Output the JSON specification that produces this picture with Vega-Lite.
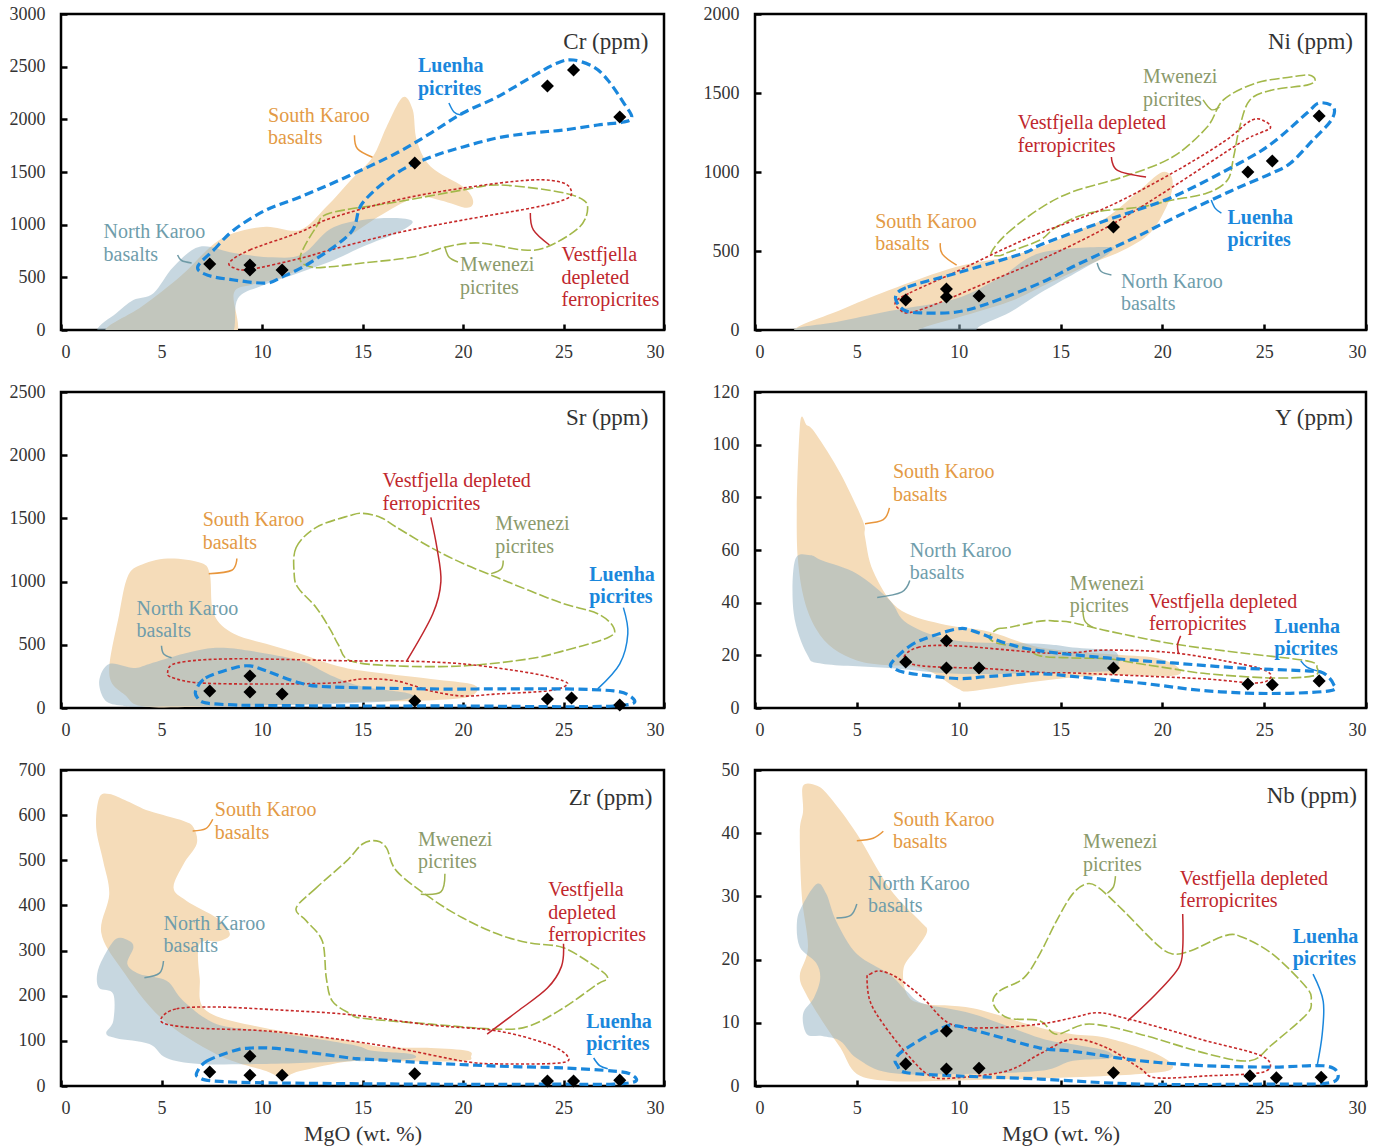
{
"$schema":"https://vega.github.io/schema/vega-lite/v6.json",
"padding":{"left":7,"top":3,"right":5,"bottom":5},
"background":"white",
"bounds":"flush",
"columns":2,
"spacing":{"row":62,"column":91},
"config":{
 "font":"Liberation Serif",
 "view":{"stroke":"black","strokeWidth":2.5},
 "axis":{"grid":false,"domain":false,"labelFont":"Liberation Serif","labelFontSize":18,"labelColor":"#333","tickColor":"black","tickSize":-6,"tickWidth":2.5,"titleFont":"Liberation Serif","titleFontSize":22,"titleFontWeight":"normal","titleColor":"#333"},
 "axisX":{"labelPadding":19,"titlePadding":6},
 "axisY":{"labelPadding":22}
},
"datasets":{
"poly":[
{"p":"Cr","g":"SK","x":2.2,"y":0},{"p":"Cr","g":"SK","x":4,"y":220},{"p":"Cr","g":"SK","x":6,"y":520},{"p":"Cr","g":"SK","x":7.5,"y":800},{"p":"Cr","g":"SK","x":8.6,"y":920},{"p":"Cr","g":"SK","x":10.2,"y":980},{"p":"Cr","g":"SK","x":11.9,"y":950},{"p":"Cr","g":"SK","x":13.2,"y":1170},{"p":"Cr","g":"SK","x":14.4,"y":1420},{"p":"Cr","g":"SK","x":15.5,"y":1640},{"p":"Cr","g":"SK","x":16.2,"y":1930},{"p":"Cr","g":"SK","x":17.0,"y":2210},{"p":"Cr","g":"SK","x":17.5,"y":2090},{"p":"Cr","g":"SK","x":17.7,"y":1800},{"p":"Cr","g":"SK","x":18.4,"y":1550},{"p":"Cr","g":"SK","x":20.0,"y":1360},{"p":"Cr","g":"SK","x":20.5,"y":1230},{"p":"Cr","g":"SK","x":20.2,"y":1160},{"p":"Cr","g":"SK","x":18.9,"y":1230},{"p":"Cr","g":"SK","x":17.7,"y":1260},{"p":"Cr","g":"SK","x":16,"y":1100},{"p":"Cr","g":"SK","x":14,"y":850},{"p":"Cr","g":"SK","x":12.5,"y":650},{"p":"Cr","g":"SK","x":11.0,"y":500},{"p":"Cr","g":"SK","x":9.5,"y":430},{"p":"Cr","g":"SK","x":8.6,"y":350},{"p":"Cr","g":"SK","x":8.8,"y":0},{"p":"Cr","g":"SK","x":8,"y":-150},{"p":"Cr","g":"SK","x":3,"y":-150},
{"p":"Cr","g":"NK","x":1.8,"y":0},{"p":"Cr","g":"NK","x":2.75,"y":160},{"p":"Cr","g":"NK","x":3.6,"y":285},{"p":"Cr","g":"NK","x":4.6,"y":350},{"p":"Cr","g":"NK","x":5.6,"y":600},{"p":"Cr","g":"NK","x":6.9,"y":790},{"p":"Cr","g":"NK","x":8.6,"y":730},{"p":"Cr","g":"NK","x":10.5,"y":690},{"p":"Cr","g":"NK","x":12,"y":720},{"p":"Cr","g":"NK","x":13.4,"y":960},{"p":"Cr","g":"NK","x":15,"y":1045},{"p":"Cr","g":"NK","x":16.7,"y":1063},{"p":"Cr","g":"NK","x":17.5,"y":1025},{"p":"Cr","g":"NK","x":16.7,"y":920},{"p":"Cr","g":"NK","x":15,"y":790},{"p":"Cr","g":"NK","x":13.4,"y":650},{"p":"Cr","g":"NK","x":11.5,"y":520},{"p":"Cr","g":"NK","x":10,"y":420},{"p":"Cr","g":"NK","x":8.8,"y":300},{"p":"Cr","g":"NK","x":8.6,"y":0},{"p":"Cr","g":"NK","x":8,"y":-150},{"p":"Cr","g":"NK","x":2.5,"y":-150},
{"p":"Cr","g":"MW","x":11.9,"y":693},{"p":"Cr","g":"MW","x":12.7,"y":978},{"p":"Cr","g":"MW","x":13.4,"y":1110},{"p":"Cr","g":"MW","x":16.7,"y":1215},{"p":"Cr","g":"MW","x":20,"y":1330},{"p":"Cr","g":"MW","x":21.7,"y":1377},{"p":"Cr","g":"MW","x":24.2,"y":1329},{"p":"Cr","g":"MW","x":25.7,"y":1263},{"p":"Cr","g":"MW","x":26.2,"y":1168},{"p":"Cr","g":"MW","x":25.8,"y":978},{"p":"Cr","g":"MW","x":24.2,"y":790},{"p":"Cr","g":"MW","x":23.0,"y":760},{"p":"Cr","g":"MW","x":20.8,"y":826},{"p":"Cr","g":"MW","x":19.2,"y":790},{"p":"Cr","g":"MW","x":17.5,"y":693},{"p":"Cr","g":"MW","x":15.0,"y":636},{"p":"Cr","g":"MW","x":13.4,"y":600},{"p":"Cr","g":"MW","x":12.4,"y":600},
{"p":"Cr","g":"VF","x":8.4,"y":646},{"p":"Cr","g":"VF","x":9.4,"y":760},{"p":"Cr","g":"VF","x":11.9,"y":930},{"p":"Cr","g":"VF","x":13.4,"y":1060},{"p":"Cr","g":"VF","x":16.7,"y":1234},{"p":"Cr","g":"VF","x":20,"y":1348},{"p":"Cr","g":"VF","x":23.4,"y":1424},{"p":"Cr","g":"VF","x":25.0,"y":1395},{"p":"Cr","g":"VF","x":25.4,"y":1300},{"p":"Cr","g":"VF","x":25.0,"y":1234},{"p":"Cr","g":"VF","x":23.4,"y":1158},{"p":"Cr","g":"VF","x":20,"y":1044},{"p":"Cr","g":"VF","x":16.7,"y":921},{"p":"Cr","g":"VF","x":13.4,"y":760},{"p":"Cr","g":"VF","x":11.9,"y":680},{"p":"Cr","g":"VF","x":9.4,"y":575},{"p":"Cr","g":"VF","x":8.6,"y":590},
{"p":"Cr","g":"LU","x":6.8,"y":600},{"p":"Cr","g":"LU","x":7.6,"y":760},{"p":"Cr","g":"LU","x":8.6,"y":950},{"p":"Cr","g":"LU","x":10.2,"y":1139},{"p":"Cr","g":"LU","x":11.9,"y":1263},{"p":"Cr","g":"LU","x":14.2,"y":1453},{"p":"Cr","g":"LU","x":16.7,"y":1680},{"p":"Cr","g":"LU","x":18.4,"y":1870},{"p":"Cr","g":"LU","x":20.0,"y":2060},{"p":"Cr","g":"LU","x":21.7,"y":2212},{"p":"Cr","g":"LU","x":23.4,"y":2402},{"p":"Cr","g":"LU","x":24.7,"y":2535},{"p":"Cr","g":"LU","x":25.5,"y":2563},{"p":"Cr","g":"LU","x":26.5,"y":2497},{"p":"Cr","g":"LU","x":27.2,"y":2374},{"p":"Cr","g":"LU","x":28.0,"y":2155},{"p":"Cr","g":"LU","x":28.4,"y":2022},{"p":"Cr","g":"LU","x":28.0,"y":1975},{"p":"Cr","g":"LU","x":26.7,"y":1946},{"p":"Cr","g":"LU","x":25.0,"y":1899},{"p":"Cr","g":"LU","x":23.4,"y":1870},{"p":"Cr","g":"LU","x":21.7,"y":1823},{"p":"Cr","g":"LU","x":20.0,"y":1738},{"p":"Cr","g":"LU","x":18.4,"y":1642},{"p":"Cr","g":"LU","x":16.7,"y":1490},{"p":"Cr","g":"LU","x":15.0,"y":1205},{"p":"Cr","g":"LU","x":14.4,"y":921},{"p":"Cr","g":"LU","x":12.4,"y":640},{"p":"Cr","g":"LU","x":11.0,"y":503},{"p":"Cr","g":"LU","x":10.2,"y":446},{"p":"Cr","g":"LU","x":8.6,"y":475},{"p":"Cr","g":"LU","x":7.3,"y":520},
{"p":"Ni","g":"SK","x":1.9,"y":0},{"p":"Ni","g":"SK","x":4.2,"y":127},{"p":"Ni","g":"SK","x":6.6,"y":253},{"p":"Ni","g":"SK","x":9.9,"y":400},{"p":"Ni","g":"SK","x":12.4,"y":462},{"p":"Ni","g":"SK","x":14,"y":525},{"p":"Ni","g":"SK","x":15.6,"y":614},{"p":"Ni","g":"SK","x":17.3,"y":715},{"p":"Ni","g":"SK","x":18.9,"y":886},{"p":"Ni","g":"SK","x":19.9,"y":994},{"p":"Ni","g":"SK","x":20.4,"y":981},{"p":"Ni","g":"SK","x":20.5,"y":905},{"p":"Ni","g":"SK","x":20.2,"y":778},{"p":"Ni","g":"SK","x":19.4,"y":614},{"p":"Ni","g":"SK","x":18.1,"y":506},{"p":"Ni","g":"SK","x":16.5,"y":420},{"p":"Ni","g":"SK","x":14.5,"y":300},{"p":"Ni","g":"SK","x":12.5,"y":180},{"p":"Ni","g":"SK","x":10,"y":80},{"p":"Ni","g":"SK","x":8,"y":0},{"p":"Ni","g":"SK","x":7,"y":-100},{"p":"Ni","g":"SK","x":2.5,"y":-100},
{"p":"Ni","g":"NK","x":1.9,"y":0},{"p":"Ni","g":"NK","x":4,"y":50},{"p":"Ni","g":"NK","x":6.6,"y":120},{"p":"Ni","g":"NK","x":9.9,"y":200},{"p":"Ni","g":"NK","x":12,"y":330},{"p":"Ni","g":"NK","x":14,"y":487},{"p":"Ni","g":"NK","x":17.3,"y":525},{"p":"Ni","g":"NK","x":17.4,"y":487},{"p":"Ni","g":"NK","x":16,"y":380},{"p":"Ni","g":"NK","x":14,"y":234},{"p":"Ni","g":"NK","x":12.5,"y":110},{"p":"Ni","g":"NK","x":11,"y":20},{"p":"Ni","g":"NK","x":10,"y":-100},{"p":"Ni","g":"NK","x":3,"y":-100},
{"p":"Ni","g":"MW","x":11.6,"y":490},{"p":"Ni","g":"MW","x":12.4,"y":614},{"p":"Ni","g":"MW","x":14,"y":770},{"p":"Ni","g":"MW","x":15.6,"y":875},{"p":"Ni","g":"MW","x":18.1,"y":970},{"p":"Ni","g":"MW","x":20.5,"y":1095},{"p":"Ni","g":"MW","x":22.2,"y":1285},{"p":"Ni","g":"MW","x":23.0,"y":1456},{"p":"Ni","g":"MW","x":24.6,"y":1563},{"p":"Ni","g":"MW","x":26.3,"y":1601},{"p":"Ni","g":"MW","x":27.2,"y":1614},{"p":"Ni","g":"MW","x":27.5,"y":1582},{"p":"Ni","g":"MW","x":27.1,"y":1550},{"p":"Ni","g":"MW","x":25.4,"y":1519},{"p":"Ni","g":"MW","x":24.3,"y":1456},{"p":"Ni","g":"MW","x":23.8,"y":1285},{"p":"Ni","g":"MW","x":23.5,"y":1095},{"p":"Ni","g":"MW","x":23.2,"y":949},{"p":"Ni","g":"MW","x":22.2,"y":867},{"p":"Ni","g":"MW","x":20.5,"y":823},{"p":"Ni","g":"MW","x":18.9,"y":778},{"p":"Ni","g":"MW","x":16.4,"y":740},{"p":"Ni","g":"MW","x":14.8,"y":652},{"p":"Ni","g":"MW","x":14,"y":570},{"p":"Ni","g":"MW","x":12.4,"y":490},{"p":"Ni","g":"MW","x":12.0,"y":470},
{"p":"Ni","g":"VF","x":6.9,"y":177},{"p":"Ni","g":"VF","x":7.6,"y":235},{"p":"Ni","g":"VF","x":9.9,"y":370},{"p":"Ni","g":"VF","x":12,"y":500},{"p":"Ni","g":"VF","x":14,"y":614},{"p":"Ni","g":"VF","x":17.3,"y":778},{"p":"Ni","g":"VF","x":20.5,"y":994},{"p":"Ni","g":"VF","x":23,"y":1190},{"p":"Ni","g":"VF","x":24.4,"y":1329},{"p":"Ni","g":"VF","x":25.1,"y":1316},{"p":"Ni","g":"VF","x":25.3,"y":1278},{"p":"Ni","g":"VF","x":24.8,"y":1247},{"p":"Ni","g":"VF","x":23.8,"y":1183},{"p":"Ni","g":"VF","x":20.5,"y":905},{"p":"Ni","g":"VF","x":17.3,"y":652},{"p":"Ni","g":"VF","x":14,"y":443},{"p":"Ni","g":"VF","x":11,"y":280},{"p":"Ni","g":"VF","x":9,"y":170},{"p":"Ni","g":"VF","x":7.6,"y":110},{"p":"Ni","g":"VF","x":7.1,"y":130},
{"p":"Ni","g":"LU","x":6.9,"y":209},{"p":"Ni","g":"LU","x":7.5,"y":272},{"p":"Ni","g":"LU","x":9.9,"y":360},{"p":"Ni","g":"LU","x":13.2,"y":487},{"p":"Ni","g":"LU","x":14,"y":538},{"p":"Ni","g":"LU","x":17.3,"y":696},{"p":"Ni","g":"LU","x":20.5,"y":842},{"p":"Ni","g":"LU","x":23.8,"y":1057},{"p":"Ni","g":"LU","x":25.4,"y":1183},{"p":"Ni","g":"LU","x":27.1,"y":1373},{"p":"Ni","g":"LU","x":27.7,"y":1437},{"p":"Ni","g":"LU","x":28.4,"y":1411},{"p":"Ni","g":"LU","x":28.3,"y":1329},{"p":"Ni","g":"LU","x":27.4,"y":1203},{"p":"Ni","g":"LU","x":26.3,"y":1057},{"p":"Ni","g":"LU","x":25.4,"y":994},{"p":"Ni","g":"LU","x":23.8,"y":905},{"p":"Ni","g":"LU","x":22.2,"y":810},{"p":"Ni","g":"LU","x":20.5,"y":705},{"p":"Ni","g":"LU","x":18.9,"y":600},{"p":"Ni","g":"LU","x":17.3,"y":503},{"p":"Ni","g":"LU","x":15.6,"y":400},{"p":"Ni","g":"LU","x":14,"y":297},{"p":"Ni","g":"LU","x":11.5,"y":170},{"p":"Ni","g":"LU","x":9.9,"y":114},{"p":"Ni","g":"LU","x":8.2,"y":108},{"p":"Ni","g":"LU","x":7.3,"y":127},
{"p":"Sr","g":"SK","x":2.4,"y":270},{"p":"Sr","g":"SK","x":2.9,"y":746},{"p":"Sr","g":"SK","x":3.3,"y":1032},{"p":"Sr","g":"SK","x":3.9,"y":1127},{"p":"Sr","g":"SK","x":5.3,"y":1183},{"p":"Sr","g":"SK","x":6.9,"y":1151},{"p":"Sr","g":"SK","x":7.4,"y":1063},{"p":"Sr","g":"SK","x":7.6,"y":746},{"p":"Sr","g":"SK","x":8.6,"y":587},{"p":"Sr","g":"SK","x":10.2,"y":508},{"p":"Sr","g":"SK","x":11.9,"y":429},{"p":"Sr","g":"SK","x":13.4,"y":349},{"p":"Sr","g":"SK","x":15,"y":294},{"p":"Sr","g":"SK","x":18.4,"y":230},{"p":"Sr","g":"SK","x":20.4,"y":190},{"p":"Sr","g":"SK","x":20.7,"y":135},{"p":"Sr","g":"SK","x":20,"y":79},{"p":"Sr","g":"SK","x":17.5,"y":56},{"p":"Sr","g":"SK","x":15,"y":50},{"p":"Sr","g":"SK","x":12,"y":30},{"p":"Sr","g":"SK","x":8,"y":15},{"p":"Sr","g":"SK","x":4.2,"y":10},{"p":"Sr","g":"SK","x":3.2,"y":100},
{"p":"Sr","g":"NK","x":1.9,"y":214},{"p":"Sr","g":"NK","x":2.4,"y":349},{"p":"Sr","g":"NK","x":3.6,"y":317},{"p":"Sr","g":"NK","x":4.4,"y":349},{"p":"Sr","g":"NK","x":6.1,"y":429},{"p":"Sr","g":"NK","x":7.7,"y":476},{"p":"Sr","g":"NK","x":9.4,"y":452},{"p":"Sr","g":"NK","x":11.9,"y":373},{"p":"Sr","g":"NK","x":13.4,"y":260},{"p":"Sr","g":"NK","x":15,"y":170},{"p":"Sr","g":"NK","x":17.2,"y":119},{"p":"Sr","g":"NK","x":17.4,"y":79},{"p":"Sr","g":"NK","x":15.9,"y":50},{"p":"Sr","g":"NK","x":12,"y":25},{"p":"Sr","g":"NK","x":8,"y":15},{"p":"Sr","g":"NK","x":4,"y":10},{"p":"Sr","g":"NK","x":3,"y":20},{"p":"Sr","g":"NK","x":2.2,"y":60},
{"p":"Sr","g":"MW","x":11.6,"y":1063},{"p":"Sr","g":"MW","x":11.7,"y":1270},{"p":"Sr","g":"MW","x":12.7,"y":1429},{"p":"Sr","g":"MW","x":14.4,"y":1524},{"p":"Sr","g":"MW","x":15.0,"y":1540},{"p":"Sr","g":"MW","x":15.9,"y":1508},{"p":"Sr","g":"MW","x":16.7,"y":1429},{"p":"Sr","g":"MW","x":18.4,"y":1270},{"p":"Sr","g":"MW","x":20,"y":1143},{"p":"Sr","g":"MW","x":21.7,"y":1032},{"p":"Sr","g":"MW","x":23.3,"y":929},{"p":"Sr","g":"MW","x":25,"y":825},{"p":"Sr","g":"MW","x":26.7,"y":746},{"p":"Sr","g":"MW","x":27.5,"y":635},{"p":"Sr","g":"MW","x":27.2,"y":556},{"p":"Sr","g":"MW","x":25,"y":452},{"p":"Sr","g":"MW","x":23.3,"y":389},{"p":"Sr","g":"MW","x":20,"y":333},{"p":"Sr","g":"MW","x":16.7,"y":333},{"p":"Sr","g":"MW","x":14.4,"y":373},{"p":"Sr","g":"MW","x":13.8,"y":500},{"p":"Sr","g":"MW","x":13.4,"y":620},{"p":"Sr","g":"MW","x":12.7,"y":794},{"p":"Sr","g":"MW","x":11.8,"y":950},
{"p":"Sr","g":"VF","x":5.3,"y":278},{"p":"Sr","g":"VF","x":5.8,"y":357},{"p":"Sr","g":"VF","x":8.6,"y":389},{"p":"Sr","g":"VF","x":14.4,"y":373},{"p":"Sr","g":"VF","x":16.7,"y":373},{"p":"Sr","g":"VF","x":20,"y":349},{"p":"Sr","g":"VF","x":23.3,"y":278},{"p":"Sr","g":"VF","x":25,"y":214},{"p":"Sr","g":"VF","x":25.1,"y":175},{"p":"Sr","g":"VF","x":24.2,"y":135},{"p":"Sr","g":"VF","x":21.7,"y":111},{"p":"Sr","g":"VF","x":20,"y":95},{"p":"Sr","g":"VF","x":18.4,"y":135},{"p":"Sr","g":"VF","x":16.7,"y":214},{"p":"Sr","g":"VF","x":15,"y":230},{"p":"Sr","g":"VF","x":13.5,"y":198},{"p":"Sr","g":"VF","x":10.2,"y":190},{"p":"Sr","g":"VF","x":6.9,"y":198},{"p":"Sr","g":"VF","x":5.6,"y":238},
{"p":"Sr","g":"LU","x":6.7,"y":135},{"p":"Sr","g":"LU","x":7.2,"y":238},{"p":"Sr","g":"LU","x":8.6,"y":317},{"p":"Sr","g":"LU","x":9.4,"y":333},{"p":"Sr","g":"LU","x":10.2,"y":294},{"p":"Sr","g":"LU","x":11.9,"y":198},{"p":"Sr","g":"LU","x":13.4,"y":167},{"p":"Sr","g":"LU","x":18.4,"y":151},{"p":"Sr","g":"LU","x":21.7,"y":151},{"p":"Sr","g":"LU","x":25,"y":151},{"p":"Sr","g":"LU","x":27.5,"y":135},{"p":"Sr","g":"LU","x":28.3,"y":95},{"p":"Sr","g":"LU","x":28.5,"y":40},{"p":"Sr","g":"LU","x":27.5,"y":16},{"p":"Sr","g":"LU","x":25,"y":10},{"p":"Sr","g":"LU","x":20,"y":16},{"p":"Sr","g":"LU","x":15,"y":16},{"p":"Sr","g":"LU","x":10.2,"y":20},{"p":"Sr","g":"LU","x":8.6,"y":24},{"p":"Sr","g":"LU","x":7.2,"y":40},{"p":"Sr","g":"LU","x":6.8,"y":79},
{"p":"Y","g":"SK","x":2.2,"y":106.7},{"p":"Y","g":"SK","x":2.55,"y":107.4},{"p":"Y","g":"SK","x":3.0,"y":104},{"p":"Y","g":"SK","x":4.2,"y":89},{"p":"Y","g":"SK","x":5.3,"y":71},{"p":"Y","g":"SK","x":5.4,"y":65},{"p":"Y","g":"SK","x":5.8,"y":52},{"p":"Y","g":"SK","x":7.0,"y":38},{"p":"Y","g":"SK","x":9.1,"y":32},{"p":"Y","g":"SK","x":11.5,"y":29},{"p":"Y","g":"SK","x":14,"y":23},{"p":"Y","g":"SK","x":17.3,"y":20.5},{"p":"Y","g":"SK","x":19.7,"y":19},{"p":"Y","g":"SK","x":20.8,"y":15.2},{"p":"Y","g":"SK","x":20.5,"y":12.2},{"p":"Y","g":"SK","x":17.3,"y":12.5},{"p":"Y","g":"SK","x":14,"y":10.3},{"p":"Y","g":"SK","x":10.7,"y":6.5},{"p":"Y","g":"SK","x":9.9,"y":7.6},{"p":"Y","g":"SK","x":8.2,"y":15},{"p":"Y","g":"SK","x":5,"y":18},{"p":"Y","g":"SK","x":3,"y":30},{"p":"Y","g":"SK","x":2.1,"y":57},
{"p":"Y","g":"NK","x":1.96,"y":56},{"p":"Y","g":"NK","x":2.7,"y":58},{"p":"Y","g":"NK","x":3.3,"y":56},{"p":"Y","g":"NK","x":5.0,"y":51},{"p":"Y","g":"NK","x":6.6,"y":41},{"p":"Y","g":"NK","x":7.5,"y":32},{"p":"Y","g":"NK","x":9.9,"y":25.5},{"p":"Y","g":"NK","x":14,"y":24.4},{"p":"Y","g":"NK","x":15.6,"y":23},{"p":"Y","g":"NK","x":17.3,"y":22},{"p":"Y","g":"NK","x":17.8,"y":20.5},{"p":"Y","g":"NK","x":17.8,"y":15.2},{"p":"Y","g":"NK","x":17.3,"y":14},{"p":"Y","g":"NK","x":14,"y":13.3},{"p":"Y","g":"NK","x":9.9,"y":13},{"p":"Y","g":"NK","x":6.6,"y":15.2},{"p":"Y","g":"NK","x":3.3,"y":16.8},{"p":"Y","g":"NK","x":2.55,"y":20.5},{"p":"Y","g":"NK","x":1.9,"y":36},
{"p":"Y","g":"MW","x":11.5,"y":26.7},{"p":"Y","g":"MW","x":11.9,"y":30},{"p":"Y","g":"MW","x":12.4,"y":30.5},{"p":"Y","g":"MW","x":14,"y":33},{"p":"Y","g":"MW","x":14.8,"y":33},{"p":"Y","g":"MW","x":15.6,"y":32.4},{"p":"Y","g":"MW","x":17.3,"y":29.3},{"p":"Y","g":"MW","x":20.5,"y":24.4},{"p":"Y","g":"MW","x":23.8,"y":21},{"p":"Y","g":"MW","x":27.1,"y":17.9},{"p":"Y","g":"MW","x":27.6,"y":15.2},{"p":"Y","g":"MW","x":27.4,"y":12.2},{"p":"Y","g":"MW","x":25.4,"y":11.4},{"p":"Y","g":"MW","x":22.2,"y":13},{"p":"Y","g":"MW","x":20.5,"y":14.9},{"p":"Y","g":"MW","x":18.9,"y":16.8},{"p":"Y","g":"MW","x":17.3,"y":18.7},{"p":"Y","g":"MW","x":15.6,"y":19},{"p":"Y","g":"MW","x":14,"y":19.8},{"p":"Y","g":"MW","x":13.2,"y":23},{"p":"Y","g":"MW","x":12,"y":24.4},
{"p":"Y","g":"VF","x":7.3,"y":18.7},{"p":"Y","g":"VF","x":8.0,"y":23},{"p":"Y","g":"VF","x":9.9,"y":23.6},{"p":"Y","g":"VF","x":14,"y":21},{"p":"Y","g":"VF","x":15.6,"y":21},{"p":"Y","g":"VF","x":17.3,"y":22},{"p":"Y","g":"VF","x":20.5,"y":21},{"p":"Y","g":"VF","x":23.8,"y":16.8},{"p":"Y","g":"VF","x":25.1,"y":14.1},{"p":"Y","g":"VF","x":25.3,"y":11.4},{"p":"Y","g":"VF","x":24.6,"y":9.5},{"p":"Y","g":"VF","x":22.2,"y":11},{"p":"Y","g":"VF","x":18.9,"y":12.2},{"p":"Y","g":"VF","x":15.6,"y":13.3},{"p":"Y","g":"VF","x":14,"y":13.5},{"p":"Y","g":"VF","x":11.5,"y":14.9},{"p":"Y","g":"VF","x":8.2,"y":16},
{"p":"Y","g":"LU","x":6.7,"y":17.1},{"p":"Y","g":"LU","x":7.5,"y":23},{"p":"Y","g":"LU","x":8.3,"y":26.2},{"p":"Y","g":"LU","x":9.9,"y":30},{"p":"Y","g":"LU","x":10.7,"y":29.3},{"p":"Y","g":"LU","x":12.4,"y":24.4},{"p":"Y","g":"LU","x":14,"y":21.7},{"p":"Y","g":"LU","x":17.3,"y":19},{"p":"Y","g":"LU","x":20.5,"y":17.1},{"p":"Y","g":"LU","x":23.8,"y":15.2},{"p":"Y","g":"LU","x":27.1,"y":14.1},{"p":"Y","g":"LU","x":27.9,"y":13.3},{"p":"Y","g":"LU","x":28.4,"y":9.1},{"p":"Y","g":"LU","x":28.2,"y":6.5},{"p":"Y","g":"LU","x":25.4,"y":5.5},{"p":"Y","g":"LU","x":22.2,"y":6.5},{"p":"Y","g":"LU","x":18.9,"y":9.5},{"p":"Y","g":"LU","x":15.6,"y":12},{"p":"Y","g":"LU","x":14,"y":13},{"p":"Y","g":"LU","x":11.5,"y":12},{"p":"Y","g":"LU","x":9.9,"y":11.2},{"p":"Y","g":"LU","x":7.5,"y":13.3},{"p":"Y","g":"LU","x":6.8,"y":15.2},
{"p":"Zr","g":"SK","x":1.9,"y":638},{"p":"Zr","g":"SK","x":2.4,"y":647},{"p":"Zr","g":"SK","x":3.3,"y":631},{"p":"Zr","g":"SK","x":4.4,"y":609},{"p":"Zr","g":"SK","x":6.1,"y":587},{"p":"Zr","g":"SK","x":6.6,"y":572},{"p":"Zr","g":"SK","x":6.75,"y":536},{"p":"Zr","g":"SK","x":6.1,"y":492},{"p":"Zr","g":"SK","x":5.6,"y":439},{"p":"Zr","g":"SK","x":6.25,"y":410},{"p":"Zr","g":"SK","x":7.75,"y":372},{"p":"Zr","g":"SK","x":8.4,"y":337},{"p":"Zr","g":"SK","x":7.9,"y":321},{"p":"Zr","g":"SK","x":6.9,"y":315},{"p":"Zr","g":"SK","x":6.9,"y":239},{"p":"Zr","g":"SK","x":7.25,"y":166},{"p":"Zr","g":"SK","x":10.2,"y":128},{"p":"Zr","g":"SK","x":14.4,"y":100},{"p":"Zr","g":"SK","x":16,"y":86},{"p":"Zr","g":"SK","x":18.4,"y":84},{"p":"Zr","g":"SK","x":20.2,"y":78},{"p":"Zr","g":"SK","x":20.4,"y":66},{"p":"Zr","g":"SK","x":20,"y":55},{"p":"Zr","g":"SK","x":16.7,"y":55},{"p":"Zr","g":"SK","x":14.4,"y":55},{"p":"Zr","g":"SK","x":11.9,"y":33},{"p":"Zr","g":"SK","x":11.0,"y":18},{"p":"Zr","g":"SK","x":10.2,"y":33},{"p":"Zr","g":"SK","x":7.75,"y":70},{"p":"Zr","g":"SK","x":5,"y":150},{"p":"Zr","g":"SK","x":3,"y":260},{"p":"Zr","g":"SK","x":2.0,"y":340},{"p":"Zr","g":"SK","x":2.4,"y":425},{"p":"Zr","g":"SK","x":2.1,"y":498},{"p":"Zr","g":"SK","x":1.75,"y":572},
{"p":"Zr","g":"NK","x":2.75,"y":326},{"p":"Zr","g":"NK","x":3.4,"y":321},{"p":"Zr","g":"NK","x":3.6,"y":306},{"p":"Zr","g":"NK","x":3.3,"y":270},{"p":"Zr","g":"NK","x":3.9,"y":248},{"p":"Zr","g":"NK","x":5.25,"y":233},{"p":"Zr","g":"NK","x":6.1,"y":188},{"p":"Zr","g":"NK","x":7.75,"y":137},{"p":"Zr","g":"NK","x":10.2,"y":122},{"p":"Zr","g":"NK","x":14.4,"y":92},{"p":"Zr","g":"NK","x":15.5,"y":78},{"p":"Zr","g":"NK","x":17.4,"y":71},{"p":"Zr","g":"NK","x":17.4,"y":60},{"p":"Zr","g":"NK","x":15,"y":55},{"p":"Zr","g":"NK","x":14.4,"y":55},{"p":"Zr","g":"NK","x":10.2,"y":49},{"p":"Zr","g":"NK","x":6.9,"y":49},{"p":"Zr","g":"NK","x":5.25,"y":62},{"p":"Zr","g":"NK","x":4.4,"y":93},{"p":"Zr","g":"NK","x":2.75,"y":106},{"p":"Zr","g":"NK","x":2.25,"y":117},{"p":"Zr","g":"NK","x":2.6,"y":144},{"p":"Zr","g":"NK","x":2.6,"y":204},{"p":"Zr","g":"NK","x":1.9,"y":217},{"p":"Zr","g":"NK","x":1.8,"y":248},{"p":"Zr","g":"NK","x":2.1,"y":284},
{"p":"Zr","g":"MW","x":14.2,"y":498},{"p":"Zr","g":"MW","x":12.7,"y":439},{"p":"Zr","g":"MW","x":11.7,"y":394},{"p":"Zr","g":"MW","x":12.2,"y":366},{"p":"Zr","g":"MW","x":13,"y":321},{"p":"Zr","g":"MW","x":13.2,"y":239},{"p":"Zr","g":"MW","x":13.5,"y":188},{"p":"Zr","g":"MW","x":14.4,"y":160},{"p":"Zr","g":"MW","x":15,"y":150},{"p":"Zr","g":"MW","x":18.4,"y":137},{"p":"Zr","g":"MW","x":21.7,"y":126},{"p":"Zr","g":"MW","x":23.3,"y":133},{"p":"Zr","g":"MW","x":25,"y":173},{"p":"Zr","g":"MW","x":26.7,"y":226},{"p":"Zr","g":"MW","x":27.2,"y":239},{"p":"Zr","g":"MW","x":26.7,"y":261},{"p":"Zr","g":"MW","x":25,"y":306},{"p":"Zr","g":"MW","x":23.3,"y":317},{"p":"Zr","g":"MW","x":21.7,"y":337},{"p":"Zr","g":"MW","x":20,"y":372},{"p":"Zr","g":"MW","x":18.4,"y":416},{"p":"Zr","g":"MW","x":16.7,"y":476},{"p":"Zr","g":"MW","x":16.2,"y":527},{"p":"Zr","g":"MW","x":15.7,"y":543},{"p":"Zr","g":"MW","x":15,"y":536},
{"p":"Zr","g":"VF","x":5,"y":151},{"p":"Zr","g":"VF","x":5.75,"y":171},{"p":"Zr","g":"VF","x":7.75,"y":175},{"p":"Zr","g":"VF","x":11,"y":168},{"p":"Zr","g":"VF","x":14.4,"y":158},{"p":"Zr","g":"VF","x":18.4,"y":135},{"p":"Zr","g":"VF","x":21.7,"y":122},{"p":"Zr","g":"VF","x":24.2,"y":93},{"p":"Zr","g":"VF","x":25.2,"y":66},{"p":"Zr","g":"VF","x":24.8,"y":51},{"p":"Zr","g":"VF","x":21.7,"y":49},{"p":"Zr","g":"VF","x":20,"y":55},{"p":"Zr","g":"VF","x":16.7,"y":84},{"p":"Zr","g":"VF","x":13.4,"y":106},{"p":"Zr","g":"VF","x":10.2,"y":122},{"p":"Zr","g":"VF","x":6.9,"y":128},{"p":"Zr","g":"VF","x":5.25,"y":137},
{"p":"Zr","g":"LU","x":6.75,"y":29},{"p":"Zr","g":"LU","x":7.25,"y":55},{"p":"Zr","g":"LU","x":8.6,"y":78},{"p":"Zr","g":"LU","x":9.4,"y":84},{"p":"Zr","g":"LU","x":11,"y":82},{"p":"Zr","g":"LU","x":14.4,"y":62},{"p":"Zr","g":"LU","x":15,"y":60},{"p":"Zr","g":"LU","x":18.4,"y":51},{"p":"Zr","g":"LU","x":21.7,"y":44},{"p":"Zr","g":"LU","x":25,"y":40},{"p":"Zr","g":"LU","x":27.5,"y":33},{"p":"Zr","g":"LU","x":28.3,"y":27},{"p":"Zr","g":"LU","x":28.6,"y":11},{"p":"Zr","g":"LU","x":27.5,"y":4},{"p":"Zr","g":"LU","x":25,"y":4},{"p":"Zr","g":"LU","x":18.4,"y":4},{"p":"Zr","g":"LU","x":10.2,"y":7},{"p":"Zr","g":"LU","x":7.6,"y":11},{"p":"Zr","g":"LU","x":6.9,"y":18},
{"p":"Nb","g":"SK","x":2.36,"y":47.5},{"p":"Nb","g":"SK","x":3.05,"y":47.5},{"p":"Nb","g":"SK","x":3.7,"y":45.6},{"p":"Nb","g":"SK","x":5.0,"y":39.9},{"p":"Nb","g":"SK","x":6.6,"y":31.3},{"p":"Nb","g":"SK","x":8.1,"y":26.1},{"p":"Nb","g":"SK","x":8.45,"y":24.5},{"p":"Nb","g":"SK","x":7.95,"y":21.8},{"p":"Nb","g":"SK","x":7.3,"y":18.7},{"p":"Nb","g":"SK","x":7.45,"y":14.6},{"p":"Nb","g":"SK","x":8.25,"y":13},{"p":"Nb","g":"SK","x":10.7,"y":12.3},{"p":"Nb","g":"SK","x":14,"y":9.2},{"p":"Nb","g":"SK","x":15.6,"y":8.2},{"p":"Nb","g":"SK","x":17.3,"y":7.6},{"p":"Nb","g":"SK","x":19.7,"y":5.1},{"p":"Nb","g":"SK","x":20.5,"y":2.8},{"p":"Nb","g":"SK","x":18.9,"y":1.9},{"p":"Nb","g":"SK","x":14,"y":1.2},{"p":"Nb","g":"SK","x":9,"y":0.8},{"p":"Nb","g":"SK","x":6.6,"y":0.8},{"p":"Nb","g":"SK","x":5.0,"y":1.9},{"p":"Nb","g":"SK","x":4.2,"y":6.0},{"p":"Nb","g":"SK","x":3.3,"y":10.3},{"p":"Nb","g":"SK","x":2.5,"y":14.6},{"p":"Nb","g":"SK","x":2.2,"y":17.5},{"p":"Nb","g":"SK","x":2.6,"y":22},{"p":"Nb","g":"SK","x":2.3,"y":30},{"p":"Nb","g":"SK","x":2.2,"y":40},{"p":"Nb","g":"SK","x":2.36,"y":43.5},
{"p":"Nb","g":"NK","x":3.05,"y":32},{"p":"Nb","g":"NK","x":3.5,"y":30.4},{"p":"Nb","g":"NK","x":4.0,"y":26},{"p":"Nb","g":"NK","x":5.0,"y":20.9},{"p":"Nb","g":"NK","x":6.6,"y":17.7},{"p":"Nb","g":"NK","x":7.45,"y":15},{"p":"Nb","g":"NK","x":8.3,"y":13},{"p":"Nb","g":"NK","x":10.7,"y":11.4},{"p":"Nb","g":"NK","x":14,"y":7.6},{"p":"Nb","g":"NK","x":15.6,"y":6.6},{"p":"Nb","g":"NK","x":17.3,"y":5.5},{"p":"Nb","g":"NK","x":17.4,"y":4.4},{"p":"Nb","g":"NK","x":15.6,"y":4.0},{"p":"Nb","g":"NK","x":14,"y":2.4},{"p":"Nb","g":"NK","x":9.9,"y":1.9},{"p":"Nb","g":"NK","x":6.6,"y":2.1},{"p":"Nb","g":"NK","x":5.0,"y":4.4},{"p":"Nb","g":"NK","x":4.2,"y":7.1},{"p":"Nb","g":"NK","x":3.3,"y":7.9},{"p":"Nb","g":"NK","x":2.55,"y":8.2},{"p":"Nb","g":"NK","x":2.36,"y":11.4},{"p":"Nb","g":"NK","x":2.9,"y":14},{"p":"Nb","g":"NK","x":3.2,"y":17},{"p":"Nb","g":"NK","x":3.0,"y":19.5},{"p":"Nb","g":"NK","x":2.2,"y":22},{"p":"Nb","g":"NK","x":2.06,"y":26},{"p":"Nb","g":"NK","x":2.36,"y":28.8},
{"p":"Nb","g":"MW","x":11.7,"y":13.0},{"p":"Nb","g":"MW","x":12.0,"y":15.0},{"p":"Nb","g":"MW","x":13.2,"y":17.1},{"p":"Nb","g":"MW","x":14,"y":21},{"p":"Nb","g":"MW","x":14.8,"y":26.1},{"p":"Nb","g":"MW","x":15.6,"y":30.4},{"p":"Nb","g":"MW","x":16.3,"y":32},{"p":"Nb","g":"MW","x":16.9,"y":31.3},{"p":"Nb","g":"MW","x":18.1,"y":27.7},{"p":"Nb","g":"MW","x":19.7,"y":22.5},{"p":"Nb","g":"MW","x":20.5,"y":20.9},{"p":"Nb","g":"MW","x":21.4,"y":21.4},{"p":"Nb","g":"MW","x":23.0,"y":23.7},{"p":"Nb","g":"MW","x":23.8,"y":23.7},{"p":"Nb","g":"MW","x":25.4,"y":20.9},{"p":"Nb","g":"MW","x":27.1,"y":15.5},{"p":"Nb","g":"MW","x":27.3,"y":13.4},{"p":"Nb","g":"MW","x":27.1,"y":11.4},{"p":"Nb","g":"MW","x":25.4,"y":6.6},{"p":"Nb","g":"MW","x":24.3,"y":4.0},{"p":"Nb","g":"MW","x":22.2,"y":5.1},{"p":"Nb","g":"MW","x":18.9,"y":8.2},{"p":"Nb","g":"MW","x":16.4,"y":9.8},{"p":"Nb","g":"MW","x":14.8,"y":8.2},{"p":"Nb","g":"MW","x":14,"y":10.3},{"p":"Nb","g":"MW","x":12.4,"y":10.8},
{"p":"Nb","g":"VF","x":5.5,"y":17.1},{"p":"Nb","g":"VF","x":5.65,"y":17.7},{"p":"Nb","g":"VF","x":6.15,"y":18.2},{"p":"Nb","g":"VF","x":7.0,"y":17.1},{"p":"Nb","g":"VF","x":8.25,"y":13.9},{"p":"Nb","g":"VF","x":9.6,"y":9.8},{"p":"Nb","g":"VF","x":11.5,"y":9.2},{"p":"Nb","g":"VF","x":14,"y":9.8},{"p":"Nb","g":"VF","x":15.6,"y":10.8},{"p":"Nb","g":"VF","x":16.8,"y":11.6},{"p":"Nb","g":"VF","x":18.1,"y":10.8},{"p":"Nb","g":"VF","x":20.5,"y":8.7},{"p":"Nb","g":"VF","x":22.2,"y":7.1},{"p":"Nb","g":"VF","x":24.6,"y":5.1},{"p":"Nb","g":"VF","x":25.3,"y":3.5},{"p":"Nb","g":"VF","x":24.8,"y":2.1},{"p":"Nb","g":"VF","x":22.2,"y":1.6},{"p":"Nb","g":"VF","x":19.7,"y":1.3},{"p":"Nb","g":"VF","x":18.9,"y":2.8},{"p":"Nb","g":"VF","x":17.3,"y":6.0},{"p":"Nb","g":"VF","x":15.6,"y":7.4},{"p":"Nb","g":"VF","x":14,"y":5.1},{"p":"Nb","g":"VF","x":12.4,"y":2.4},{"p":"Nb","g":"VF","x":9.9,"y":1.3},{"p":"Nb","g":"VF","x":8.6,"y":1.6},{"p":"Nb","g":"VF","x":7.45,"y":5.1},{"p":"Nb","g":"VF","x":6.3,"y":9.8},{"p":"Nb","g":"VF","x":5.65,"y":13.4},
{"p":"Nb","g":"LU","x":6.9,"y":4.3},{"p":"Nb","g":"LU","x":7.45,"y":6.0},{"p":"Nb","g":"LU","x":9.2,"y":9.2},{"p":"Nb","g":"LU","x":9.9,"y":9.5},{"p":"Nb","g":"LU","x":11.5,"y":8.2},{"p":"Nb","g":"LU","x":14,"y":6.0},{"p":"Nb","g":"LU","x":15.6,"y":5.5},{"p":"Nb","g":"LU","x":18.9,"y":4.0},{"p":"Nb","g":"LU","x":22.2,"y":3.2},{"p":"Nb","g":"LU","x":25.4,"y":3.0},{"p":"Nb","g":"LU","x":27.9,"y":3.2},{"p":"Nb","g":"LU","x":28.6,"y":2.1},{"p":"Nb","g":"LU","x":28.2,"y":0.5},{"p":"Nb","g":"LU","x":25.4,"y":0.3},{"p":"Nb","g":"LU","x":18.9,"y":0.3},{"p":"Nb","g":"LU","x":14,"y":1.1},{"p":"Nb","g":"LU","x":9.9,"y":1.6},{"p":"Nb","g":"LU","x":7.45,"y":2.1},{"p":"Nb","g":"LU","x":7.0,"y":3.2}
],
"pts":[
{"p":"Cr","x":7.4,"y":627},{"p":"Cr","x":9.4,"y":617},{"p":"Cr","x":9.4,"y":570},{"p":"Cr","x":11.0,"y":570},{"p":"Cr","x":17.6,"y":1586},{"p":"Cr","x":24.2,"y":2317},{"p":"Cr","x":25.5,"y":2469},{"p":"Cr","x":27.8,"y":2023},
{"p":"Ni","x":7.4,"y":190},{"p":"Ni","x":9.4,"y":259},{"p":"Ni","x":9.4,"y":209},{"p":"Ni","x":11.0,"y":215},{"p":"Ni","x":17.6,"y":652},{"p":"Ni","x":24.2,"y":1000},{"p":"Ni","x":25.4,"y":1070},{"p":"Ni","x":27.7,"y":1354},
{"p":"Sr","x":7.4,"y":135},{"p":"Sr","x":9.4,"y":254},{"p":"Sr","x":9.4,"y":127},{"p":"Sr","x":11.0,"y":111},{"p":"Sr","x":17.6,"y":56},{"p":"Sr","x":24.2,"y":71},{"p":"Sr","x":25.4,"y":79},{"p":"Sr","x":27.8,"y":24},
{"p":"Y","x":7.4,"y":17.5},{"p":"Y","x":9.4,"y":25.5},{"p":"Y","x":9.4,"y":15.2},{"p":"Y","x":11.0,"y":15.2},{"p":"Y","x":17.6,"y":15.2},{"p":"Y","x":24.2,"y":9.1},{"p":"Y","x":25.4,"y":8.8},{"p":"Y","x":27.7,"y":10.3},
{"p":"Zr","x":7.4,"y":31},{"p":"Zr","x":9.4,"y":66},{"p":"Zr","x":9.4,"y":24},{"p":"Zr","x":11.0,"y":24},{"p":"Zr","x":17.6,"y":27},{"p":"Zr","x":24.2,"y":11},{"p":"Zr","x":25.5,"y":11},{"p":"Zr","x":27.8,"y":13},
{"p":"Nb","x":7.4,"y":3.5},{"p":"Nb","x":9.4,"y":8.7},{"p":"Nb","x":9.4,"y":2.7},{"p":"Nb","x":11.0,"y":2.8},{"p":"Nb","x":17.6,"y":2.1},{"p":"Nb","x":24.3,"y":1.6},{"p":"Nb","x":25.6,"y":1.3},{"p":"Nb","x":27.8,"y":1.4}
],
"lead":[
{"p":"Cr","g":"SK","x":14.6,"y":1850},{"p":"Cr","g":"SK","x":14.75,"y":1720},{"p":"Cr","g":"SK","x":15.5,"y":1640},
{"p":"Cr","g":"LU","x":19.3,"y":2155},{"p":"Cr","g":"LU","x":19.55,"y":2070},{"p":"Cr","g":"LU","x":19.9,"y":2041},
{"p":"Cr","g":"NK","x":5.8,"y":712},{"p":"Cr","g":"NK","x":6.0,"y":660},{"p":"Cr","g":"NK","x":6.5,"y":636},
{"p":"Cr","g":"MW","x":19.1,"y":790},{"p":"Cr","g":"MW","x":19.3,"y":693},{"p":"Cr","g":"MW","x":19.75,"y":646},
{"p":"Cr","g":"VF","x":23.35,"y":1110},{"p":"Cr","g":"VF","x":23.5,"y":950},{"p":"Cr","g":"VF","x":24.3,"y":807},
{"p":"Ni","g":"SK","x":9.1,"y":550},{"p":"Ni","g":"SK","x":9.2,"y":480},{"p":"Ni","g":"SK","x":9.9,"y":410},
{"p":"Ni","g":"NK","x":16.8,"y":424},{"p":"Ni","g":"NK","x":17.0,"y":370},{"p":"Ni","g":"NK","x":17.5,"y":348},
{"p":"Ni","g":"VF","x":17.5,"y":1095},{"p":"Ni","g":"VF","x":17.8,"y":1010},{"p":"Ni","g":"VF","x":19.2,"y":968},
{"p":"Ni","g":"MW","x":22.0,"y":1456},{"p":"Ni","g":"MW","x":22.4,"y":1395},{"p":"Ni","g":"MW","x":22.8,"y":1411},
{"p":"Ni","g":"LU","x":22.4,"y":823},{"p":"Ni","g":"LU","x":22.6,"y":770},{"p":"Ni","g":"LU","x":22.9,"y":740},
{"p":"Sr","g":"SK","x":8.75,"y":1183},{"p":"Sr","g":"SK","x":8.5,"y":1090},{"p":"Sr","g":"SK","x":7.35,"y":1063},
{"p":"Sr","g":"NK","x":5.0,"y":492},{"p":"Sr","g":"NK","x":5.1,"y":430},{"p":"Sr","g":"NK","x":5.5,"y":397},
{"p":"Sr","g":"VF","x":18.4,"y":1508},{"p":"Sr","g":"VF","x":18.7,"y":1270},{"p":"Sr","g":"VF","x":18.9,"y":1000},{"p":"Sr","g":"VF","x":18.5,"y":746},{"p":"Sr","g":"VF","x":17.2,"y":373},
{"p":"Sr","g":"MW","x":22.0,"y":1167},{"p":"Sr","g":"MW","x":21.9,"y":1100},{"p":"Sr","g":"MW","x":21.4,"y":1063},
{"p":"Sr","g":"LU","x":27.98,"y":794},{"p":"Sr","g":"LU","x":28.2,"y":587},{"p":"Sr","g":"LU","x":27.8,"y":349},{"p":"Sr","g":"LU","x":26.7,"y":151},
{"p":"Y","g":"SK","x":6.6,"y":76},{"p":"Y","g":"SK","x":6.3,"y":71.5},{"p":"Y","g":"SK","x":5.4,"y":70},
{"p":"Y","g":"NK","x":7.6,"y":48.4},{"p":"Y","g":"NK","x":7.2,"y":44},{"p":"Y","g":"NK","x":6.0,"y":42},
{"p":"Y","g":"MW","x":16.1,"y":37},{"p":"Y","g":"MW","x":16.2,"y":33},{"p":"Y","g":"MW","x":16.6,"y":30.5},
{"p":"Y","g":"VF","x":20.9,"y":27.4},{"p":"Y","g":"VF","x":20.75,"y":24},{"p":"Y","g":"VF","x":20.8,"y":20.5},
{"p":"Y","g":"LU","x":26.8,"y":17.9},{"p":"Y","g":"LU","x":27.1,"y":15.5},{"p":"Y","g":"LU","x":27.6,"y":14.1},
{"p":"Zr","g":"SK","x":7.55,"y":591},{"p":"Zr","g":"SK","x":7.2,"y":570},{"p":"Zr","g":"SK","x":6.55,"y":565},
{"p":"Zr","g":"NK","x":5.1,"y":277},{"p":"Zr","g":"NK","x":4.9,"y":250},{"p":"Zr","g":"NK","x":4.15,"y":240},
{"p":"Zr","g":"MW","x":19.1,"y":470},{"p":"Zr","g":"MW","x":18.9,"y":430},{"p":"Zr","g":"MW","x":17.9,"y":425},
{"p":"Zr","g":"VF","x":25.0,"y":315},{"p":"Zr","g":"VF","x":24.9,"y":265},{"p":"Zr","g":"VF","x":24.2,"y":217},{"p":"Zr","g":"VF","x":22.7,"y":165},{"p":"Zr","g":"VF","x":21.2,"y":115},
{"p":"Zr","g":"LU","x":26.5,"y":62},{"p":"Zr","g":"LU","x":26.8,"y":45},{"p":"Zr","g":"LU","x":27.2,"y":38},
{"p":"Nb","g":"SK","x":6.3,"y":40.3},{"p":"Nb","g":"SK","x":5.8,"y":39.2},{"p":"Nb","g":"SK","x":5.0,"y":38.8},
{"p":"Nb","g":"NK","x":5.0,"y":28.8},{"p":"Nb","g":"NK","x":4.7,"y":27},{"p":"Nb","g":"NK","x":4.0,"y":26.6},
{"p":"Nb","g":"MW","x":17.7,"y":33.2},{"p":"Nb","g":"MW","x":17.6,"y":31.5},{"p":"Nb","g":"MW","x":17.3,"y":30.5},
{"p":"Nb","g":"VF","x":21.0,"y":27.2},{"p":"Nb","g":"VF","x":21.0,"y":21.8},{"p":"Nb","g":"VF","x":20.8,"y":18.7},{"p":"Nb","g":"VF","x":19.7,"y":14.6},{"p":"Nb","g":"VF","x":18.3,"y":10.3},
{"p":"Nb","g":"LU","x":27.4,"y":17.7},{"p":"Nb","g":"LU","x":27.9,"y":13.4},{"p":"Nb","g":"LU","x":27.85,"y":8.2},{"p":"Nb","g":"LU","x":27.6,"y":3.2}
],
"lab":[
{"p":"Cr","g":"SK","t":"South Karoo\nbasalts","x":10.3,"y":2032},{"p":"Cr","g":"LU","t":"Luenha\npicrites","x":17.76,"y":2506},{"p":"Cr","g":"NK","t":"North Karoo\nbasalts","x":2.12,"y":930},{"p":"Cr","g":"MW","t":"Mwenezi\npicrites","x":19.85,"y":617},{"p":"Cr","g":"VF","t":"Vestfjella\ndepleted\nferropicrites","x":24.9,"y":712},{"p":"Cr","g":"T","t":"Cr (ppm)","x":29.22,"y":2734},
{"p":"Ni","g":"SK","t":"South Karoo\nbasalts","x":5.9,"y":684},{"p":"Ni","g":"NK","t":"North Karoo\nbasalts","x":17.97,"y":304},{"p":"Ni","g":"VF","t":"Vestfjella depleted\nferropicrites","x":12.9,"y":1310},{"p":"Ni","g":"MW","t":"Mwenezi\npicrites","x":19.05,"y":1601},{"p":"Ni","g":"LU","t":"Luenha\npicrites","x":23.2,"y":709},{"p":"Ni","g":"T","t":"Ni (ppm)","x":29.36,"y":1823},
{"p":"Sr","g":"SK","t":"South Karoo\nbasalts","x":7.05,"y":1484},{"p":"Sr","g":"NK","t":"North Karoo\nbasalts","x":3.76,"y":786},{"p":"Sr","g":"VF","t":"Vestfjella depleted\nferropicrites","x":16.0,"y":1794},{"p":"Sr","g":"MW","t":"Mwenezi\npicrites","x":21.6,"y":1452},{"p":"Sr","g":"LU","t":"Luenha\npicrites","x":26.28,"y":1056},{"p":"Sr","g":"T","t":"Sr (ppm)","x":29.22,"y":2294},
{"p":"Y","g":"SK","t":"South Karoo\nbasalts","x":6.77,"y":89.5},{"p":"Y","g":"NK","t":"North Karoo\nbasalts","x":7.6,"y":59.8},{"p":"Y","g":"MW","t":"Mwenezi\npicrites","x":15.46,"y":47.2},{"p":"Y","g":"VF","t":"Vestfjella depleted\nferropicrites","x":19.34,"y":40.4},{"p":"Y","g":"LU","t":"Luenha\npicrites","x":25.5,"y":30.9},{"p":"Y","g":"T","t":"Y (ppm)","x":29.36,"y":110},
{"p":"Zr","g":"SK","t":"South Karoo\nbasalts","x":7.65,"y":611},{"p":"Zr","g":"NK","t":"North Karoo\nbasalts","x":5.1,"y":359},{"p":"Zr","g":"MW","t":"Mwenezi\npicrites","x":17.76,"y":545},{"p":"Zr","g":"VF","t":"Vestfjella\ndepleted\nferropicrites","x":24.24,"y":434},{"p":"Zr","g":"LU","t":"Luenha\npicrites","x":26.13,"y":142},{"p":"Zr","g":"T","t":"Zr (ppm)","x":29.42,"y":638},
{"p":"Nb","g":"SK","t":"South Karoo\nbasalts","x":6.77,"y":42.1},{"p":"Nb","g":"NK","t":"North Karoo\nbasalts","x":5.55,"y":32.0},{"p":"Nb","g":"MW","t":"Mwenezi\npicrites","x":16.1,"y":38.6},{"p":"Nb","g":"VF","t":"Vestfjella depleted\nferropicrites","x":20.86,"y":32.8},{"p":"Nb","g":"LU","t":"Luenha\npicrites","x":26.4,"y":23.6},{"p":"Nb","g":"T","t":"Nb (ppm)","x":29.55,"y":45.9}
]
},
"concat":[
{"width":603,"height":316,
 "encoding":{"x":{"field":"x","type":"quantitative","scale":{"domain":[0,30],"nice":false},"axis":{"values":[0,5,10,15,20,25,30],"title":null}},
  "y":{"field":"y","type":"quantitative","scale":{"domain":[0,3000],"nice":false},"axis":{"values":[0,500,1000,1500,2000,2500,3000],"format":"d","title":null}}},
 "layer":[
  {"data":{"name":"poly"},"transform":[{"filter":"datum.p=='Cr'&&datum.g=='SK'"}],"mark":{"type":"line","interpolate":"cardinal-closed","fill":"#f5dcb9","strokeOpacity":0,"clip":true},"encoding":{"order":{"value":null}}},
  {"data":{"name":"poly"},"transform":[{"filter":"datum.p=='Cr'&&datum.g=='NK'"}],"mark":{"type":"line","interpolate":"cardinal-closed","fill":"#8fb0c2","fillOpacity":0.5,"strokeOpacity":0,"clip":true},"encoding":{"order":{"value":null}}},
  {"data":{"name":"poly"},"transform":[{"filter":"datum.p=='Cr'&&datum.g=='MW'"}],"mark":{"type":"line","interpolate":"cardinal-closed","stroke":"#a3b84a","strokeWidth":1.6,"strokeDash":[10,3],"clip":true},"encoding":{"order":{"value":null}}},
  {"data":{"name":"poly"},"transform":[{"filter":"datum.p=='Cr'&&datum.g=='VF'"}],"mark":{"type":"line","interpolate":"cardinal-closed","stroke":"#c62828","strokeWidth":1.6,"strokeDash":[3,2.2],"clip":true},"encoding":{"order":{"value":null}}},
  {"data":{"name":"poly"},"transform":[{"filter":"datum.p=='Cr'&&datum.g=='LU'"}],"mark":{"type":"line","interpolate":"cardinal-closed","stroke":"#1a87dc","strokeWidth":3.2,"strokeDash":[9,4.5],"clip":true},"encoding":{"order":{"value":null}}},
  {"data":{"name":"lead"},"transform":[{"filter":"datum.p=='Cr'"}],"mark":{"type":"line","interpolate":"cardinal","strokeWidth":1.5},"encoding":{"order":{"value":null},"stroke":{"field":"g","type":"nominal","scale":{"domain":["SK","NK","MW","VF","LU"],"range":["#e8963c","#6e9aa6","#a0b34e","#c0272d","#1a87dc"]},"legend":null}}},
  {"data":{"name":"pts"},"transform":[{"filter":"datum.p=='Cr'"}],"mark":{"type":"point","shape":"diamond","filled":true,"color":"black","size":170,"opacity":1}},
  {"data":{"name":"lab"},"transform":[{"filter":"datum.p=='Cr'&&datum.g!='LU'&&datum.g!='T'"}],"mark":{"type":"text","align":"left","baseline":"middle","fontSize":20,"lineBreak":"\n","lineHeight":22.5},"encoding":{"text":{"field":"t"},"color":{"field":"g","type":"nominal","scale":{"domain":["SK","NK","MW","VF"],"range":["#e39a45","#6f9dab","#8b9a6b","#c0272d"]},"legend":null}}},
  {"data":{"name":"lab"},"transform":[{"filter":"datum.p=='Cr'&&datum.g=='LU'"}],"mark":{"type":"text","align":"left","baseline":"middle","fontSize":20,"fontWeight":"bold","lineBreak":"\n","lineHeight":22.5,"color":"#1a87dc"},"encoding":{"text":{"field":"t"}}},
  {"data":{"name":"lab"},"transform":[{"filter":"datum.p=='Cr'&&datum.g=='T'"}],"mark":{"type":"text","align":"right","baseline":"middle","fontSize":23,"color":"#333"},"encoding":{"text":{"field":"t"}}}
 ]},
{"width":611,"height":316,
 "encoding":{"x":{"field":"x","type":"quantitative","scale":{"domain":[0,30],"nice":false},"axis":{"values":[0,5,10,15,20,25,30],"title":null}},
  "y":{"field":"y","type":"quantitative","scale":{"domain":[0,2000],"nice":false},"axis":{"values":[0,500,1000,1500,2000],"format":"d","title":null}}},
 "layer":[
  {"data":{"name":"poly"},"transform":[{"filter":"datum.p=='Ni'&&datum.g=='SK'"}],"mark":{"type":"line","interpolate":"cardinal-closed","fill":"#f5dcb9","strokeOpacity":0,"clip":true},"encoding":{"order":{"value":null}}},
  {"data":{"name":"poly"},"transform":[{"filter":"datum.p=='Ni'&&datum.g=='NK'"}],"mark":{"type":"line","interpolate":"cardinal-closed","fill":"#8fb0c2","fillOpacity":0.5,"strokeOpacity":0,"clip":true},"encoding":{"order":{"value":null}}},
  {"data":{"name":"poly"},"transform":[{"filter":"datum.p=='Ni'&&datum.g=='MW'"}],"mark":{"type":"line","interpolate":"cardinal-closed","stroke":"#a3b84a","strokeWidth":1.6,"strokeDash":[10,3],"clip":true},"encoding":{"order":{"value":null}}},
  {"data":{"name":"poly"},"transform":[{"filter":"datum.p=='Ni'&&datum.g=='VF'"}],"mark":{"type":"line","interpolate":"cardinal-closed","stroke":"#c62828","strokeWidth":1.6,"strokeDash":[3,2.2],"clip":true},"encoding":{"order":{"value":null}}},
  {"data":{"name":"poly"},"transform":[{"filter":"datum.p=='Ni'&&datum.g=='LU'"}],"mark":{"type":"line","interpolate":"cardinal-closed","stroke":"#1a87dc","strokeWidth":3.2,"strokeDash":[9,4.5],"clip":true},"encoding":{"order":{"value":null}}},
  {"data":{"name":"lead"},"transform":[{"filter":"datum.p=='Ni'"}],"mark":{"type":"line","interpolate":"cardinal","strokeWidth":1.5},"encoding":{"order":{"value":null},"stroke":{"field":"g","type":"nominal","scale":{"domain":["SK","NK","MW","VF","LU"],"range":["#e8963c","#6e9aa6","#a0b34e","#c0272d","#1a87dc"]},"legend":null}}},
  {"data":{"name":"pts"},"transform":[{"filter":"datum.p=='Ni'"}],"mark":{"type":"point","shape":"diamond","filled":true,"color":"black","size":170,"opacity":1}},
  {"data":{"name":"lab"},"transform":[{"filter":"datum.p=='Ni'&&datum.g!='LU'&&datum.g!='T'"}],"mark":{"type":"text","align":"left","baseline":"middle","fontSize":20,"lineBreak":"\n","lineHeight":22.5},"encoding":{"text":{"field":"t"},"color":{"field":"g","type":"nominal","scale":{"domain":["SK","NK","MW","VF"],"range":["#e39a45","#6f9dab","#8b9a6b","#c0272d"]},"legend":null}}},
  {"data":{"name":"lab"},"transform":[{"filter":"datum.p=='Ni'&&datum.g=='LU'"}],"mark":{"type":"text","align":"left","baseline":"middle","fontSize":20,"fontWeight":"bold","lineBreak":"\n","lineHeight":22.5,"color":"#1a87dc"},"encoding":{"text":{"field":"t"}}},
  {"data":{"name":"lab"},"transform":[{"filter":"datum.p=='Ni'&&datum.g=='T'"}],"mark":{"type":"text","align":"right","baseline":"middle","fontSize":23,"color":"#333"},"encoding":{"text":{"field":"t"}}}
 ]},
{"width":603,"height":316,
 "encoding":{"x":{"field":"x","type":"quantitative","scale":{"domain":[0,30],"nice":false},"axis":{"values":[0,5,10,15,20,25,30],"title":null}},
  "y":{"field":"y","type":"quantitative","scale":{"domain":[0,2500],"nice":false},"axis":{"values":[0,500,1000,1500,2000,2500],"format":"d","title":null}}},
 "layer":[
  {"data":{"name":"poly"},"transform":[{"filter":"datum.p=='Sr'&&datum.g=='SK'"}],"mark":{"type":"line","interpolate":"cardinal-closed","fill":"#f5dcb9","strokeOpacity":0,"clip":true},"encoding":{"order":{"value":null}}},
  {"data":{"name":"poly"},"transform":[{"filter":"datum.p=='Sr'&&datum.g=='NK'"}],"mark":{"type":"line","interpolate":"cardinal-closed","fill":"#8fb0c2","fillOpacity":0.5,"strokeOpacity":0,"clip":true},"encoding":{"order":{"value":null}}},
  {"data":{"name":"poly"},"transform":[{"filter":"datum.p=='Sr'&&datum.g=='MW'"}],"mark":{"type":"line","interpolate":"cardinal-closed","stroke":"#a3b84a","strokeWidth":1.6,"strokeDash":[10,3],"clip":true},"encoding":{"order":{"value":null}}},
  {"data":{"name":"poly"},"transform":[{"filter":"datum.p=='Sr'&&datum.g=='VF'"}],"mark":{"type":"line","interpolate":"cardinal-closed","stroke":"#c62828","strokeWidth":1.6,"strokeDash":[3,2.2],"clip":true},"encoding":{"order":{"value":null}}},
  {"data":{"name":"poly"},"transform":[{"filter":"datum.p=='Sr'&&datum.g=='LU'"}],"mark":{"type":"line","interpolate":"cardinal-closed","stroke":"#1a87dc","strokeWidth":3.2,"strokeDash":[9,4.5],"clip":true},"encoding":{"order":{"value":null}}},
  {"data":{"name":"lead"},"transform":[{"filter":"datum.p=='Sr'"}],"mark":{"type":"line","interpolate":"cardinal","strokeWidth":1.5},"encoding":{"order":{"value":null},"stroke":{"field":"g","type":"nominal","scale":{"domain":["SK","NK","MW","VF","LU"],"range":["#e8963c","#6e9aa6","#a0b34e","#c0272d","#1a87dc"]},"legend":null}}},
  {"data":{"name":"pts"},"transform":[{"filter":"datum.p=='Sr'"}],"mark":{"type":"point","shape":"diamond","filled":true,"color":"black","size":170,"opacity":1}},
  {"data":{"name":"lab"},"transform":[{"filter":"datum.p=='Sr'&&datum.g!='LU'&&datum.g!='T'"}],"mark":{"type":"text","align":"left","baseline":"middle","fontSize":20,"lineBreak":"\n","lineHeight":22.5},"encoding":{"text":{"field":"t"},"color":{"field":"g","type":"nominal","scale":{"domain":["SK","NK","MW","VF"],"range":["#e39a45","#6f9dab","#8b9a6b","#c0272d"]},"legend":null}}},
  {"data":{"name":"lab"},"transform":[{"filter":"datum.p=='Sr'&&datum.g=='LU'"}],"mark":{"type":"text","align":"left","baseline":"middle","fontSize":20,"fontWeight":"bold","lineBreak":"\n","lineHeight":22.5,"color":"#1a87dc"},"encoding":{"text":{"field":"t"}}},
  {"data":{"name":"lab"},"transform":[{"filter":"datum.p=='Sr'&&datum.g=='T'"}],"mark":{"type":"text","align":"right","baseline":"middle","fontSize":23,"color":"#333"},"encoding":{"text":{"field":"t"}}}
 ]},
{"width":611,"height":316,
 "encoding":{"x":{"field":"x","type":"quantitative","scale":{"domain":[0,30],"nice":false},"axis":{"values":[0,5,10,15,20,25,30],"title":null}},
  "y":{"field":"y","type":"quantitative","scale":{"domain":[0,120],"nice":false},"axis":{"values":[0,20,40,60,80,100,120],"format":"d","title":null}}},
 "layer":[
  {"data":{"name":"poly"},"transform":[{"filter":"datum.p=='Y'&&datum.g=='SK'"}],"mark":{"type":"line","interpolate":"cardinal-closed","fill":"#f5dcb9","strokeOpacity":0,"clip":true},"encoding":{"order":{"value":null}}},
  {"data":{"name":"poly"},"transform":[{"filter":"datum.p=='Y'&&datum.g=='NK'"}],"mark":{"type":"line","interpolate":"cardinal-closed","fill":"#8fb0c2","fillOpacity":0.5,"strokeOpacity":0,"clip":true},"encoding":{"order":{"value":null}}},
  {"data":{"name":"poly"},"transform":[{"filter":"datum.p=='Y'&&datum.g=='MW'"}],"mark":{"type":"line","interpolate":"cardinal-closed","stroke":"#a3b84a","strokeWidth":1.6,"strokeDash":[10,3],"clip":true},"encoding":{"order":{"value":null}}},
  {"data":{"name":"poly"},"transform":[{"filter":"datum.p=='Y'&&datum.g=='VF'"}],"mark":{"type":"line","interpolate":"cardinal-closed","stroke":"#c62828","strokeWidth":1.6,"strokeDash":[3,2.2],"clip":true},"encoding":{"order":{"value":null}}},
  {"data":{"name":"poly"},"transform":[{"filter":"datum.p=='Y'&&datum.g=='LU'"}],"mark":{"type":"line","interpolate":"cardinal-closed","stroke":"#1a87dc","strokeWidth":3.2,"strokeDash":[9,4.5],"clip":true},"encoding":{"order":{"value":null}}},
  {"data":{"name":"lead"},"transform":[{"filter":"datum.p=='Y'"}],"mark":{"type":"line","interpolate":"cardinal","strokeWidth":1.5},"encoding":{"order":{"value":null},"stroke":{"field":"g","type":"nominal","scale":{"domain":["SK","NK","MW","VF","LU"],"range":["#e8963c","#6e9aa6","#a0b34e","#c0272d","#1a87dc"]},"legend":null}}},
  {"data":{"name":"pts"},"transform":[{"filter":"datum.p=='Y'"}],"mark":{"type":"point","shape":"diamond","filled":true,"color":"black","size":170,"opacity":1}},
  {"data":{"name":"lab"},"transform":[{"filter":"datum.p=='Y'&&datum.g!='LU'&&datum.g!='T'"}],"mark":{"type":"text","align":"left","baseline":"middle","fontSize":20,"lineBreak":"\n","lineHeight":22.5},"encoding":{"text":{"field":"t"},"color":{"field":"g","type":"nominal","scale":{"domain":["SK","NK","MW","VF"],"range":["#e39a45","#6f9dab","#8b9a6b","#c0272d"]},"legend":null}}},
  {"data":{"name":"lab"},"transform":[{"filter":"datum.p=='Y'&&datum.g=='LU'"}],"mark":{"type":"text","align":"left","baseline":"middle","fontSize":20,"fontWeight":"bold","lineBreak":"\n","lineHeight":22.5,"color":"#1a87dc"},"encoding":{"text":{"field":"t"}}},
  {"data":{"name":"lab"},"transform":[{"filter":"datum.p=='Y'&&datum.g=='T'"}],"mark":{"type":"text","align":"right","baseline":"middle","fontSize":23,"color":"#333"},"encoding":{"text":{"field":"t"}}}
 ]},
{"width":603,"height":316,
 "encoding":{"x":{"field":"x","type":"quantitative","scale":{"domain":[0,30],"nice":false},"axis":{"values":[0,5,10,15,20,25,30],"title":"MgO (wt. %)"}},
  "y":{"field":"y","type":"quantitative","scale":{"domain":[0,700],"nice":false},"axis":{"values":[0,100,200,300,400,500,600,700],"format":"d","title":null}}},
 "layer":[
  {"data":{"name":"poly"},"transform":[{"filter":"datum.p=='Zr'&&datum.g=='SK'"}],"mark":{"type":"line","interpolate":"cardinal-closed","fill":"#f5dcb9","strokeOpacity":0,"clip":true},"encoding":{"order":{"value":null}}},
  {"data":{"name":"poly"},"transform":[{"filter":"datum.p=='Zr'&&datum.g=='NK'"}],"mark":{"type":"line","interpolate":"cardinal-closed","fill":"#8fb0c2","fillOpacity":0.5,"strokeOpacity":0,"clip":true},"encoding":{"order":{"value":null}}},
  {"data":{"name":"poly"},"transform":[{"filter":"datum.p=='Zr'&&datum.g=='MW'"}],"mark":{"type":"line","interpolate":"cardinal-closed","stroke":"#a3b84a","strokeWidth":1.6,"strokeDash":[10,3],"clip":true},"encoding":{"order":{"value":null}}},
  {"data":{"name":"poly"},"transform":[{"filter":"datum.p=='Zr'&&datum.g=='VF'"}],"mark":{"type":"line","interpolate":"cardinal-closed","stroke":"#c62828","strokeWidth":1.6,"strokeDash":[3,2.2],"clip":true},"encoding":{"order":{"value":null}}},
  {"data":{"name":"poly"},"transform":[{"filter":"datum.p=='Zr'&&datum.g=='LU'"}],"mark":{"type":"line","interpolate":"cardinal-closed","stroke":"#1a87dc","strokeWidth":3.2,"strokeDash":[9,4.5],"clip":true},"encoding":{"order":{"value":null}}},
  {"data":{"name":"lead"},"transform":[{"filter":"datum.p=='Zr'"}],"mark":{"type":"line","interpolate":"cardinal","strokeWidth":1.5},"encoding":{"order":{"value":null},"stroke":{"field":"g","type":"nominal","scale":{"domain":["SK","NK","MW","VF","LU"],"range":["#e8963c","#6e9aa6","#a0b34e","#c0272d","#1a87dc"]},"legend":null}}},
  {"data":{"name":"pts"},"transform":[{"filter":"datum.p=='Zr'"}],"mark":{"type":"point","shape":"diamond","filled":true,"color":"black","size":170,"opacity":1}},
  {"data":{"name":"lab"},"transform":[{"filter":"datum.p=='Zr'&&datum.g!='LU'&&datum.g!='T'"}],"mark":{"type":"text","align":"left","baseline":"middle","fontSize":20,"lineBreak":"\n","lineHeight":22.5},"encoding":{"text":{"field":"t"},"color":{"field":"g","type":"nominal","scale":{"domain":["SK","NK","MW","VF"],"range":["#e39a45","#6f9dab","#8b9a6b","#c0272d"]},"legend":null}}},
  {"data":{"name":"lab"},"transform":[{"filter":"datum.p=='Zr'&&datum.g=='LU'"}],"mark":{"type":"text","align":"left","baseline":"middle","fontSize":20,"fontWeight":"bold","lineBreak":"\n","lineHeight":22.5,"color":"#1a87dc"},"encoding":{"text":{"field":"t"}}},
  {"data":{"name":"lab"},"transform":[{"filter":"datum.p=='Zr'&&datum.g=='T'"}],"mark":{"type":"text","align":"right","baseline":"middle","fontSize":23,"color":"#333"},"encoding":{"text":{"field":"t"}}}
 ]},
{"width":611,"height":316,
 "encoding":{"x":{"field":"x","type":"quantitative","scale":{"domain":[0,30],"nice":false},"axis":{"values":[0,5,10,15,20,25,30],"title":"MgO (wt. %)"}},
  "y":{"field":"y","type":"quantitative","scale":{"domain":[0,50],"nice":false},"axis":{"values":[0,10,20,30,40,50],"format":"d","title":null}}},
 "layer":[
  {"data":{"name":"poly"},"transform":[{"filter":"datum.p=='Nb'&&datum.g=='SK'"}],"mark":{"type":"line","interpolate":"cardinal-closed","fill":"#f5dcb9","strokeOpacity":0,"clip":true},"encoding":{"order":{"value":null}}},
  {"data":{"name":"poly"},"transform":[{"filter":"datum.p=='Nb'&&datum.g=='NK'"}],"mark":{"type":"line","interpolate":"cardinal-closed","fill":"#8fb0c2","fillOpacity":0.5,"strokeOpacity":0,"clip":true},"encoding":{"order":{"value":null}}},
  {"data":{"name":"poly"},"transform":[{"filter":"datum.p=='Nb'&&datum.g=='MW'"}],"mark":{"type":"line","interpolate":"cardinal-closed","stroke":"#a3b84a","strokeWidth":1.6,"strokeDash":[10,3],"clip":true},"encoding":{"order":{"value":null}}},
  {"data":{"name":"poly"},"transform":[{"filter":"datum.p=='Nb'&&datum.g=='VF'"}],"mark":{"type":"line","interpolate":"cardinal-closed","stroke":"#c62828","strokeWidth":1.6,"strokeDash":[3,2.2],"clip":true},"encoding":{"order":{"value":null}}},
  {"data":{"name":"poly"},"transform":[{"filter":"datum.p=='Nb'&&datum.g=='LU'"}],"mark":{"type":"line","interpolate":"cardinal-closed","stroke":"#1a87dc","strokeWidth":3.2,"strokeDash":[9,4.5],"clip":true},"encoding":{"order":{"value":null}}},
  {"data":{"name":"lead"},"transform":[{"filter":"datum.p=='Nb'"}],"mark":{"type":"line","interpolate":"cardinal","strokeWidth":1.5},"encoding":{"order":{"value":null},"stroke":{"field":"g","type":"nominal","scale":{"domain":["SK","NK","MW","VF","LU"],"range":["#e8963c","#6e9aa6","#a0b34e","#c0272d","#1a87dc"]},"legend":null}}},
  {"data":{"name":"pts"},"transform":[{"filter":"datum.p=='Nb'"}],"mark":{"type":"point","shape":"diamond","filled":true,"color":"black","size":170,"opacity":1}},
  {"data":{"name":"lab"},"transform":[{"filter":"datum.p=='Nb'&&datum.g!='LU'&&datum.g!='T'"}],"mark":{"type":"text","align":"left","baseline":"middle","fontSize":20,"lineBreak":"\n","lineHeight":22.5},"encoding":{"text":{"field":"t"},"color":{"field":"g","type":"nominal","scale":{"domain":["SK","NK","MW","VF"],"range":["#e39a45","#6f9dab","#8b9a6b","#c0272d"]},"legend":null}}},
  {"data":{"name":"lab"},"transform":[{"filter":"datum.p=='Nb'&&datum.g=='LU'"}],"mark":{"type":"text","align":"left","baseline":"middle","fontSize":20,"fontWeight":"bold","lineBreak":"\n","lineHeight":22.5,"color":"#1a87dc"},"encoding":{"text":{"field":"t"}}},
  {"data":{"name":"lab"},"transform":[{"filter":"datum.p=='Nb'&&datum.g=='T'"}],"mark":{"type":"text","align":"right","baseline":"middle","fontSize":23,"color":"#333"},"encoding":{"text":{"field":"t"}}}
 ]}
]
}
